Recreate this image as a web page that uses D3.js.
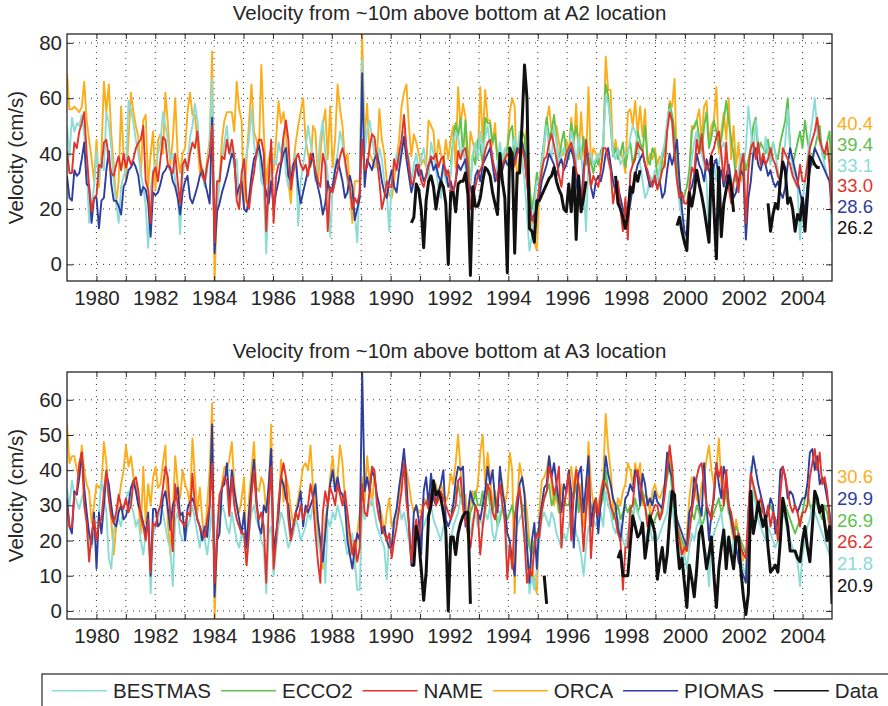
<!DOCTYPE html>
<html>
<head>
<meta charset="utf-8">
<script src="https://cdn.jsdelivr.net/npm/d3@7"></script>
<style>
body { margin: 0; background: #fff; }
svg text { font-family: "Liberation Sans", Arial, Helvetica, sans-serif; fill: #262626; }
</style>
</head>
<body>
<svg id="chart" width="888" height="706"></svg>
<script>

// monthly means, Jan 1979 .. Dec 2004 (312 months), null = no value
function gap(n) { return Array(n).fill(null) }

var series_names = ["BESTMAS", "ECCO2", "NAME", "ORCA", "PIOMAS", "Data"]

// ---------- A2 location ----------
// ORCA stops after 2001
var a2_orca = [
	69, 56, 56, 57, 56, 55, 57, 66, 52, 45, 38, 30,
	45, 28, 40, 66, 55, 65, 47, 36, 22, 30, 57, 40,
	30, 45, 62, 55, 50, 46, 32, 52, 54, 28, 40, 48,
	27, 45, 47, 40, 62, 51, 36, 45, 60, 39, 33, 40,
	42, 55, 62, 54, 54, 44, 33, 35, 30, 38, 45, 77,
	-6.0, 22, 30, 45, 52, 55, 55, 55, 48, 66, 56, 52,
	20, 38, 51, 65, 48, 45, 40, 72, 48, 29, 38, 42,
	34, 45, 59, 51, 55, 48, 30, 22, 36, 44, 50, 55,
	60, 45, 40, 35, 50, 48, 30, 40, 50, 56, 38, 57,
	35, 45, 65, 56, 50, 37, 40, 28, 15, 30, 30, 30,
	83.2, 45, 58, 40, 38, 35, 38, 56, 45, 40, 30, 25,
	24, 30, 38, 45, 57, 62, 65, 50, 39, 47, 44, 40,
	36, 38, 35, 52, 50, 48, 35, 45, 40, 36, 45, 38,
	45, 50, 35, 64, 50, 58, 53, 28, 48, 44, 40, 38,
	64, 44, 63, 52, 52, 43, 51, 38, 32, 36, 40, 42,
	55, 60, 57, 28, 39, 40, 44, 50, 30, 15, 8, 5,
	25, 32, 42, 52, 57, 48, 47, 50, 44, 39, 40, 45,
	40, 53, 42, 58, 38, 55, 40, 36, 64, 36, 42, 40,
	38, 34, 42, 75, 63, 63, 39, 45, 39, 41, 38, 33,
	55, 56, 50, 59, 47, 57, 46, 56, 36, 40, 38, 42,
	36, 39, 38, 35, 50, 59, 57, 67, 32, 25, 18, 10,
	5, 30, 50, 49, 52, 56, 45, 57, 59, 44, 50, 52,
	64, 40, 48, 55, 45, 60, 38, 50, 35, 44, 30, 36
].concat(gap(36))

var a2_ecco2 = gap(156).concat([
	36, 45, 51, 46, 53, 40, 52, 39, 29, 40, 36, 45,
	43, 36, 53, 51, 51, 44, 47, 38, 40, 35, 37, 42,
	48, 50, 38, 40, 44, 48, 46, 36, 28, 20, 25, 33,
	28, 38, 45, 53, 46, 48, 54, 45, 36, 44, 48, 40,
	38, 51, 45, 50, 44, 38, 46, 36, 40, 37, 33, 38,
	36, 41, 43, 65, 61, 50, 39, 42, 38, 40, 44, 35,
	41, 44, 36, 40, 48, 44, 41, 50, 38, 36, 42, 40,
	32, 29, 38, 42, 50, 58, 54, 48, 36, 30, 22, 25,
	28, 34, 48, 50, 52, 46, 40, 50, 55, 42, 46, 52,
	48, 42, 45, 52, 59, 52, 45, 40, 30, 28, 36, 40,
	34, 38, 42, 50, 53, 40, 44, 42, 40, 45, 38, 44,
	40, 38, 44, 48, 52, 60, 42, 36, 40, 44, 48, 42,
	52, 45, 40, 36, 42, 46, 50, 40, 38, 44, 48, 30
])

var a2_bestmas = [
	50, 39, 53, 48, 51, 50, 54, 47, 35, 15, 22, 28,
	41, 30, 38, 34, 55, 51, 42, 30, 22, 15, 28, 32,
	34, 59, 56, 51, 45, 40, 33, 28, 21, 6, 27, 34,
	36, 40, 44, 55, 50, 45, 38, 40, 30, 25, 11, 32,
	38, 35, 46, 50, 58, 52, 40, 33, 28, 34, 45, 67,
	5, 20, 30, 38, 44, 50, 40, 42, 35, 38, 21, 30,
	34, 40, 45, 56, 44, 38, 42, 30, 28, 4, 25, 34,
	38, 36, 44, 40, 46, 33, 28, 35, 36, 40, 14, 30,
	36, 42, 50, 44, 38, 30, 36, 46, 52, 40, 32, 10,
	28, 36, 40, 48, 44, 36, 30, 24, 22, 18, 8, 30,
	74, 40, 48, 52, 46, 40, 35, 42, 38, 30, 26, 12,
	30, 34, 40, 36, 44, 48, 42, 38, 30, 36, 40, 34,
	38, 42, 36, 30, 44, 40, 34, 28, 24, 36, 30, 28,
	32, 44, 48, 46, 40, 42, 35, 26, 30, 40, 44, 38,
	48, 40, 46, 50, 42, 40, 30, 36, 44, 38, 42, 36,
	40, 42, 46, 40, 48, 38, 30, 18, 5, 10, 22, 30,
	30, 36, 44, 50, 42, 38, 50, 44, 36, 40, 42, 38,
	40, 48, 44, 36, 46, 40, 30, 12, 38, 40, 36, 38,
	40, 38, 44, 61, 58, 52, 40, 38, 42, 36, 38, 40,
	40, 46, 50, 48, 44, 36, 30, 24, 26, 32, 30, 34,
	30, 36, 40, 44, 52, 56, 50, 38, 30, 22, 16, 12,
	8, 28, 38, 44, 48, 42, 40, 36, 30, 8, 30, 36,
	30, 36, 42, 44, 40, 36, 30, 28, 26, 34, 40, 36,
	42, 57, 48, 40, 52, 44, 38, 36, 46, 40, 36, 44,
	40, 34, 30, 38, 44, 56, 40, 36, 30, 28, 9, 22,
	30, 38, 46, 52, 60, 48, 44, 40, 36, 32, 30, 8
]

var a2_name = [
	41, 33, 33, 44, 42, 48, 51, 55, 40, 28, 19, 24,
	25, 36, 35, 44, 45, 38, 33, 32, 36, 39, 34, 40,
	35, 39, 36, 38, 42, 44, 45, 50, 30, 27, 15, 33,
	35, 30, 38, 46, 45, 36, 34, 33, 40, 30, 22, 36,
	38, 34, 40, 44, 42, 48, 38, 32, 30, 36, 40, 50,
	8, 30, 30, 39, 38, 45, 40, 45, 39, 23, 20, 33,
	38, 23, 20, 28, 33, 40, 45, 45, 40, 12, 30, 45,
	15, 32, 36, 37, 46, 52, 45, 27, 33, 38, 40, 36,
	34, 36, 32, 40, 38, 34, 30, 28, 40, 36, 12, 28,
	26, 30, 34, 39, 42, 38, 32, 28, 20, 24, 22, 26,
	45, 34, 35, 42, 47, 46, 38, 30, 20, 24, 30, 28,
	28, 38, 34, 40, 45, 54, 42, 36, 29, 30, 35, 36,
	30, 28, 32, 36, 39, 38, 40, 35, 38, 39, 32, 34,
	27, 26, 30, 41, 38, 41, 42, 35, 20, 24, 28, 32,
	34, 36, 41, 44, 45, 38, 34, 30, 32, 36, 38, 40,
	38, 34, 36, 40, 42, 42, 38, 30, 20, 17, 15, 22,
	28, 34, 38, 39, 44, 47, 43, 38, 32, 28, 36, 40,
	42, 44, 40, 34, 30, 21, 30, 45, 38, 28, 32, 30,
	28, 34, 42, 42, 38, 34, 22, 28, 30, 20, 12, 24,
	9, 33, 36, 38, 44, 42, 41, 36, 34, 30, 28, 32,
	27, 30, 34, 36, 48, 55, 52, 40, 30, 24, 26, 22,
	22, 27, 35, 33, 45, 40, 47, 38, 34, 36, 40, 42,
	46, 48, 40, 30, 44, 28, 22, 30, 34, 26, 36, 40,
	15, 34, 42, 44, 38, 44, 36, 40, 36, 38, 42, 38,
	36, 32, 30, 42, 40, 38, 36, 32, 30, 28, 36, 30,
	30, 36, 42, 45, 48, 53, 45, 42, 40, 44, 36, 18
]

var a2_piomas = [
	32, 24, 23, 34, 32, 33, 38, 44, 29, 28, 15, 24,
	24, 13, 23, 24, 34, 41, 29, 23, 23, 21, 18, 28,
	30, 34, 35, 37, 35, 32, 25, 28, 27, 22, 10, 26,
	25, 26, 29, 33, 34, 36, 35, 30, 28, 24, 18, 26,
	30, 32, 24, 22, 25, 28, 32, 34, 30, 26, 22, 53,
	4, 19, 22, 26, 29, 32, 36, 40, 38, 25, 28, 30,
	20, 19, 24, 32, 38, 40, 43, 38, 30, 26, 22, 30,
	20, 26, 30, 36, 40, 42, 32, 30, 36, 38, 28, 22,
	26, 30, 34, 36, 40, 32, 28, 24, 18, 22, 30, 26,
	28, 34, 38, 34, 30, 24, 26, 32, 28, 16, 20, 24,
	69, 28, 38, 36, 34, 38, 40, 36, 30, 26, 24, 30,
	34, 28, 26, 34, 40, 46, 38, 32, 26, 30, 36, 32,
	34, 30, 32, 36, 38, 34, 36, 32, 30, 36, 34, 28,
	30, 26, 30, 36, 34, 36, 38, 30, 28, 24, 32, 34,
	30, 36, 38, 40, 42, 36, 30, 32, 36, 34, 38, 36,
	36, 34, 38, 42, 40, 44, 40, 30, 22, 16, 18, 20,
	24, 30, 33, 36, 40, 38, 36, 32, 36, 38, 34, 36,
	40, 42, 38, 30, 24, 22, 34, 42, 36, 28, 24, 30,
	32, 30, 34, 40, 42, 36, 30, 26, 28, 24, 20, 18,
	16, 22, 28, 32, 36, 38, 40, 36, 32, 28, 30, 30,
	28, 30, 24, 26, 34, 40, 36, 40, 45, 30, 20, 12,
	10, 26, 28, 32, 40, 36, 34, 30, 38, 34, 30, 36,
	38, 30, 34, 28, 32, 36, 30, 24, 26, 30, 34, 32,
	9, 24, 30, 40, 42, 36, 34, 38, 36, 32, 34, 30,
	28, 30, 26, 24, 28, 36, 42, 38, 34, 30, 26, 22,
	20, 28, 34, 38, 42, 40, 38, 36, 34, 32, 30, 20
]

var a2_data = gap(140).concat(
	[15, 17, 29, 27],
	[20, 6, 23, 30, 32, 28, 20, 26, 30, 28, 22, 0],
	[26, 26, 19, 29, 30, 30, 33, 25, -4, 28, 21, 21],
	[24, 30, 35, 34, 32, 26, 22, 18, 40, 30, 24, -3],
	[42, 40, 4, 33, 33, 51, 72, 60, 13, 12, 8, 23],
	[23, 25, 27, 29, 31, 32, 35, 30, 27, 25, 20, 19],
	[29, 19, 35, 9, 32, 19, 24, 30], gap(4),
	gap(7), [32, 22, 20, 17, 13],
	[18, 28, 26, 33, 30, 34], gap(6),
	gap(8), [14, 17, 12, 8],
	[5, 26, 21, 26, 34, 29, 25, 20, 14, 8, 39, 20],
	[2, 35, 10, 22, 27, 32, 28, 19], gap(4),
	gap(9), [22, 12, 18],
	[22, 20, 30, 37, 34, 22, 24, 20, 12, 18, 16, 24],
	[12, 24, 39, 38, 36, 35, 35], gap(5)
)

var a2_label_names = ["ORCA", "ECCO2", "BESTMAS", "NAME", "PIOMAS", "Data"]
var a2_label_values = [40.4, 39.4, 33.1, 33.0, 28.6, 26.2]

// ---------- A3 location ----------
var a3_orca = [
	53, 42, 44, 44, 40, 38, 47, 40, 36, 34, 25, 30,
	36, 35, 36, 48, 42, 32, 26, 16, 24, 31, 36, 40,
	47, 41, 44, 38, 36, 31, 22, 41, 25, 36, 30, 38,
	41, 35, 36, 42, 47, 25, 16, 28, 44, 36, 32, 40,
	36, 34, 30, 49, 38, 28, 35, 26, 20, 30, 40, 59,
	-2.3, 20, 28, 36, 41, 40, 43, 48, 36, 30, 28, 32,
	38, 13, 32, 40, 48, 35, 34, 38, 36, 28, 32, 53,
	16, 22, 25, 43, 31, 38, 35, 29, 24, 28, 32, 36,
	41, 42, 40, 47, 35, 30, 22, 17, 12, 26, 30, 38,
	44, 36, 38, 47, 42, 32, 24, 16, 20, 12, 22, 28,
	38, 31, 44, 37, 30, 39, 32, 30, 27, 22, 28, 32,
	24, 26, 28, 33, 38, 44, 40, 36, 31, 28, 30, 28,
	28, 32, 31, 33, 30, 34, 36, 31, 36, 34, 31, 33,
	39, 36, 42, 50, 40, 28, 33, 20, 30, 34, 32, 36,
	45, 50, 36, 45, 38, 30, 34, 28, 40, 36, 30, 34,
	45, 40, 5, 30, 42, 38, 34, 28, 20, 14, 8, 5,
	28, 37, 38, 40, 44, 36, 30, 33, 28, 36, 30, 34,
	38, 41, 34, 41, 29, 36, 24, 30, 48, 36, 30, 28,
	30, 34, 38, 56, 46, 40, 30, 28, 32, 30, 34, 36,
	42, 40, 36, 42, 38, 42, 30, 33, 32, 28, 34, 36,
	33, 32, 34, 36, 40, 44, 38, 30, 26, 22, 18, 16,
	22, 32, 38, 36, 32, 30, 36, 38, 43, 47, 40, 36,
	40, 49, 36, 32, 38, 30, 24, 20, 26, 22, 18, 14
].concat(gap(36))

var a3_ecco2 = gap(156).concat([
	28, 30, 34, 36, 32, 30, 26, 22, 28, 30, 34, 30,
	30, 34, 28, 36, 30, 28, 32, 24, 26, 30, 28, 26,
	28, 30, 26, 32, 34, 30, 28, 22, 18, 16, 20, 22,
	24, 30, 32, 34, 36, 30, 32, 34, 28, 30, 32, 30,
	30, 34, 32, 36, 28, 32, 30, 28, 34, 30, 28, 30,
	28, 30, 32, 40, 34, 30, 26, 28, 30, 26, 28, 30,
	28, 30, 26, 32, 28, 30, 34, 30, 26, 28, 24, 26,
	28, 26, 30, 34, 38, 42, 34, 28, 24, 22, 20, 18,
	18, 24, 28, 26, 30, 28, 24, 26, 30, 28, 26, 28,
	30, 32, 28, 30, 34, 28, 26, 22, 24, 22, 20, 18,
	16, 22, 28, 34, 32, 30, 28, 30, 26, 28, 30, 28,
	26, 24, 28, 32, 30, 28, 26, 24, 22, 24, 26, 28,
	32, 34, 30, 28, 32, 30, 28, 26, 30, 28, 24, 18
])

var a3_bestmas = [
	35, 30, 37, 33, 31, 29, 32, 34, 26, 20, 18, 22,
	20, 28, 37, 33, 28, 15, 12, 22, 28, 26, 24, 30,
	32, 34, 30, 28, 24, 26, 20, 16, 22, 26, 5, 22,
	24, 26, 30, 28, 24, 20, 18, 7, 26, 28, 22, 20,
	20, 24, 26, 30, 26, 22, 18, 24, 20, 16, 22, 30,
	4, 22, 26, 30, 28, 24, 22, 28, 24, 20, 18, 22,
	20, 14, 22, 28, 30, 26, 24, 20, 18, 5, 22, 24,
	10, 18, 24, 28, 26, 22, 18, 20, 22, 26, 24, 20,
	22, 24, 28, 26, 30, 24, 20, 16, 22, 8, 26, 24,
	28, 26, 30, 27, 24, 20, 16, 18, 22, 14, 6, 6,
	30, 26, 28, 30, 32, 28, 24, 22, 20, 18, 9, 22,
	18, 24, 26, 30, 26, 28, 24, 20, 16, 22, 24, 20,
	22, 24, 26, 28, 30, 26, 24, 22, 20, 24, 22, 18,
	20, 24, 26, 28, 32, 30, 26, 24, 22, 26, 28, 24,
	26, 24, 28, 26, 30, 22, 20, 24, 28, 30, 24, 18,
	16, 14, 20, 24, 26, 28, 22, 18, 5, 10, 6, 12,
	20, 26, 28, 26, 24, 28, 26, 22, 20, 18, 22, 20,
	24, 28, 26, 22, 20, 16, 10, 18, 24, 22, 26, 24,
	26, 28, 24, 34, 30, 28, 24, 22, 26, 24, 20, 18,
	22, 26, 28, 30, 28, 26, 24, 20, 22, 24, 20, 22,
	20, 22, 24, 26, 28, 34, 30, 24, 20, 18, 14, 16,
	12, 18, 22, 20, 24, 26, 22, 18, 16, 7, 20, 22,
	24, 26, 28, 22, 20, 18, 16, 20, 18, 16, 14, 12,
	10, 24, 41, 33, 30, 26, 24, 22, 20, 24, 22, 20,
	18, 20, 24, 28, 26, 22, 20, 18, 16, 14, 7, 16,
	20, 24, 26, 30, 28, 26, 24, 22, 20, 18, 16, 10
]

var a3_name = [
	30, 24, 24, 33, 34, 42, 45, 30, 25, 14, 22, 26,
	20, 25, 26, 34, 40, 32, 27, 25, 28, 33, 30, 29,
	32, 28, 30, 37, 38, 34, 27, 24, 20, 26, 11, 25,
	24, 28, 30, 35, 41, 38, 27, 17, 36, 30, 26, 25,
	24, 28, 27, 39, 30, 26, 24, 22, 21, 26, 30, 42,
	8, 22, 33, 35, 38, 37, 27, 38, 30, 26, 24, 22,
	22, 13, 22, 33, 40, 30, 26, 28, 24, 8, 30, 41,
	12, 20, 31, 38, 42, 38, 26, 20, 24, 28, 26, 30,
	26, 28, 30, 36, 32, 22, 14, 8, 28, 34, 30, 35,
	33, 30, 36, 33, 30, 34, 28, 22, 16, 20, 14, 18,
	36, 28, 27, 34, 41, 40, 30, 26, 24, 22, 20, 22,
	15, 20, 24, 29, 34, 42, 31, 25, 14, 22, 26, 20,
	27, 30, 31, 29, 33, 36, 30, 32, 34, 32, 30, 28,
	26, 28, 30, 37, 38, 30, 26, 22, 18, 24, 30, 28,
	16, 24, 30, 36, 34, 28, 26, 32, 36, 30, 26, 9,
	19, 12, 26, 32, 35, 28, 20, 8, 12, 10, 18, 22,
	21, 28, 32, 34, 41, 38, 33, 36, 41, 18, 30, 34,
	39, 20, 33, 40, 36, 30, 17, 28, 38, 15, 26, 32,
	27, 33, 37, 36, 34, 30, 28, 26, 22, 20, 6, 18,
	18, 29, 30, 38, 40, 36, 32, 30, 24, 26, 28, 30,
	30, 26, 28, 33, 40, 47, 41, 30, 24, 20, 16, 18,
	17, 22, 28, 33, 38, 41, 42, 36, 30, 28, 26, 34,
	42, 38, 41, 30, 40, 30, 28, 24, 20, 22, 18, 16,
	15, 28, 39, 36, 33, 30, 32, 28, 26, 30, 24, 28,
	26, 20, 33, 41, 38, 34, 30, 28, 30, 28, 24, 28,
	28, 30, 38, 42, 46, 40, 45, 36, 38, 34, 26, 8
]

var a3_piomas = [
	32, 24, 22, 34, 33, 38, 45, 35, 28, 22, 19, 28,
	12, 28, 22, 30, 39, 36, 30, 25, 24, 28, 30, 26,
	27, 30, 35, 37, 34, 30, 28, 25, 22, 28, 10, 29,
	29, 24, 25, 32, 34, 29, 23, 30, 32, 35, 27, 28,
	20, 29, 31, 32, 30, 26, 24, 20, 24, 21, 30, 53,
	4, 20, 22, 35, 36, 42, 30, 40, 34, 30, 26, 22,
	28, 18, 28, 36, 43, 32, 24, 22, 30, 28, 36, 46,
	17, 22, 28, 38, 36, 32, 30, 22, 24, 28, 30, 34,
	24, 30, 28, 30, 32, 36, 26, 20, 14, 22, 30, 36,
	40, 34, 38, 34, 33, 30, 20, 16, 12, 18, 22, 20,
	67.9, 34, 38, 34, 40, 38, 33, 30, 22, 24, 20, 18,
	18, 26, 29, 35, 40, 46, 37, 24, 13, 28, 30, 26,
	16, 34, 38, 30, 39, 32, 30, 34, 36, 40, 26, 24,
	26, 30, 37, 41, 40, 41, 24, 28, 34, 31, 30, 28,
	26, 30, 34, 41, 36, 40, 32, 28, 41, 34, 30, 22,
	20, 14, 10, 28, 36, 38, 33, 18, 8, 20, 25, 12,
	25, 30, 35, 36, 44, 38, 42, 36, 31, 28, 36, 34,
	40, 34, 18, 30, 39, 41, 28, 36, 44, 24, 30, 32,
	22, 31, 35, 44, 39, 36, 32, 30, 24, 20, 26, 32,
	33, 36, 34, 40, 38, 30, 39, 36, 30, 32, 30, 34,
	31, 30, 29, 36, 45, 40, 38, 30, 26, 24, 22, 20,
	18, 28, 30, 38, 36, 30, 27, 42, 30, 20, 28, 32,
	42, 36, 32, 41, 38, 30, 26, 22, 18, 14, 12, 10,
	8, 28, 38, 44, 40, 36, 33, 30, 26, 28, 32, 30,
	22, 26, 40, 41, 38, 32, 34, 33, 30, 28, 30, 32,
	32, 36, 45, 46, 40, 44, 36, 38, 36, 32, 28, 20
]

var a3_data = gap(140).concat(
	[13, 13, 24, 20],
	[12, 3, 11, 27, 30, 37, 33, 34, 32, 28, 23, 0],
	[21, 21, 16, 22, 25, 27, 28, 28, 2], gap(3),
	gap(12),
	gap(12),
	gap(2), [10, 2], gap(8),
	gap(12),
	gap(8), [15, 17, 10, 10],
	[10, 19, 27, 24, 21, 22, 25, 15, 20, 27, 25, 22],
	[9, 14, 18, 11, 16, 26, 34, 33, 20, 12, 15, 8],
	[1, 13, 9, 4, 12, 22, 24, 18, 12, 16, 21, 10],
	[1, 12, 18, 23, 12, 21, 16, 12, 21, 21, 11, 4],
	[-1, 5, 34, 22, 26, 31, 27, 24, 27, 18, 11, 12],
	[13, 11, 20, 32, 28, 24, 17, 17, 17, 15, 14, 20],
	[24, 18, 14, 24, 34, 32, 28, 30, 25, 20, 24, 2]
)

var a3_label_names = ["ORCA", "PIOMAS", "ECCO2", "NAME", "BESTMAS", "Data"]
var a3_label_values = [30.6, 29.9, 26.9, 26.2, 21.8, 20.9]

// ---------- styles ----------
var colours = {
	"BESTMAS": "#8bdcd5",
	"ECCO2": "#5ec24c",
	"NAME": "#e2342b",
	"ORCA": "#fbad1a",
	"PIOMAS": "#2d3e9e",
	"Data": "#111111"
}
var draw_order = ["ORCA", "ECCO2", "BESTMAS", "PIOMAS", "NAME", "Data"]
var font_size = 20.5
var label_font_size = 18.5

var svg = d3.select("#chart")

var x = d3.scaleLinear().domain([1979, 2005]).range([67, 832])
var month_to_year = d3.scaleLinear().domain([0, 311]).range([1979, 2005])
var year_ticks = d3.range(1980, 2005)

function _flatten(series) {
	var out = []
	Object.keys(series).forEach(function(k) {out = out.concat(series[k])})
	return out
}

function draw_panel(cfg) {

	var all_values = _flatten(cfg.series).filter(function(d) {return d != null})
	var y = d3.scaleLinear().domain(d3.extent(all_values)).range([cfg.bottom, cfg.top])

	var g = svg.append("g")

	var clip_id = "clip_" + cfg.id
	svg.append("clipPath").attr("id", clip_id)
		.append("rect")
		.attr("x", x.range()[0]).attr("y", cfg.top)
		.attr("width", x.range()[1] - x.range()[0])
		.attr("height", cfg.bottom - cfg.top)

	// dotted grid
	g.selectAll(".vgrid").data(year_ticks).enter()
		.append("line")
		.attr("x1", function(d) {return x(d)})
		.attr("x2", function(d) {return x(d)})
		.attr("y1", cfg.top)
		.attr("y2", cfg.bottom)
		.attr("stroke", "#333")
		.attr("stroke-width", 1)
		.attr("stroke-dasharray", "1,5")

	g.selectAll(".hgrid").data(cfg.y_ticks).enter()
		.append("line")
		.attr("x1", x.range()[0])
		.attr("x2", x.range()[1])
		.attr("y1", function(d) {return y(d)})
		.attr("y2", function(d) {return y(d)})
		.attr("stroke", "#333")
		.attr("stroke-width", 1)
		.attr("stroke-dasharray", "1,5")

	// series
	var line = d3.line()
		.defined(function(d) {return d[1] != null})
		.x(function(d) {return x(month_to_year(d[0]))})
		.y(function(d) {return y(d[1])})

	var lines_g = g.append("g").attr("clip-path", "url(#" + clip_id + ")")
	draw_order.forEach(function(name) {
		var values = cfg.series[name]
		var pts = values.map(function(v, i) {return [i, v]})
		lines_g.append("path")
			.datum(pts)
			.attr("d", line)
			.attr("fill", "none")
			.attr("stroke", colours[name])
			.attr("stroke-width", name == "Data" ? 3 : 1.9)
			.attr("stroke-linejoin", "round")
	})

	// axes (ticks inside the box, like matlab)
	var bottom_axis = d3.axisBottom(x).tickValues(year_ticks).tickSize(-5).tickPadding(9)
		.tickFormat(function(d) {return d % 2 == 0 ? d : ""})
	var top_axis = d3.axisTop(x).tickValues(year_ticks).tickSize(-5).tickFormat("")
	var left_axis = d3.axisLeft(y).tickValues(cfg.y_ticks).tickSize(-6).tickPadding(5)
	var right_axis = d3.axisRight(y).tickValues(cfg.y_ticks).tickSize(-6).tickFormat("")

	var axes = [
		[bottom_axis, "translate(0," + cfg.bottom + ")"],
		[top_axis, "translate(0," + cfg.top + ")"],
		[left_axis, "translate(" + x.range()[0] + ",0)"],
		[right_axis, "translate(" + x.range()[1] + ",0)"]
	]
	axes.forEach(function(a) {
		var ag = g.append("g").attr("transform", a[1]).call(a[0])
		ag.select(".domain").remove()
		ag.selectAll("line").attr("stroke", "#262626").attr("stroke-width", 1)
		ag.selectAll("text")
			.attr("font-size", font_size)
			.attr("font-family", "Liberation Sans, Arial, sans-serif")
			.attr("fill", "#262626")
	})

	g.append("rect")
		.attr("x", x.range()[0]).attr("y", cfg.top)
		.attr("width", x.range()[1] - x.range()[0])
		.attr("height", cfg.bottom - cfg.top)
		.attr("fill", "none")
		.attr("stroke", "#262626")
		.attr("stroke-width", 1.3)

	// title and y label
	g.append("text")
		.attr("x", (x.range()[0] + x.range()[1]) / 2)
		.attr("y", cfg.title_y)
		.attr("text-anchor", "middle")
		.attr("font-size", font_size)
		.text(cfg.title)

	g.append("text")
		.attr("transform", "translate(23," + ((cfg.top + cfg.bottom) / 2) + ") rotate(-90)")
		.attr("text-anchor", "middle")
		.attr("font-size", font_size)
		.text("Velocity (cm/s)")

	// mean values at the right
	g.selectAll(".mean_label").data(d3.zip(cfg.label_names, cfg.label_values)).enter()
		.append("text")
		.attr("x", 837)
		.attr("y", function(d, i) {return cfg.label_y + i * cfg.label_step})
		.attr("dy", "0.36em")
		.attr("font-size", label_font_size)
		.style("fill", function(d) {return colours[d[0]]})
		.text(function(d) {return d3.format(".1f")(d[1])})
}

draw_panel({
	id: "a2",
	top: 34, bottom: 281,
	title: "Velocity from ~10m above bottom at A2 location",
	title_y: 20,
	y_ticks: [0, 20, 40, 60, 80],
	series: {"BESTMAS": a2_bestmas, "ECCO2": a2_ecco2, "NAME": a2_name,
		"ORCA": a2_orca, "PIOMAS": a2_piomas, "Data": a2_data},
	label_names: a2_label_names, label_values: a2_label_values,
	label_y: 123.5, label_step: 20.7
})

draw_panel({
	id: "a3",
	top: 372, bottom: 619,
	title: "Velocity from ~10m above bottom at A3 location",
	title_y: 358,
	y_ticks: [0, 10, 20, 30, 40, 50, 60],
	series: {"BESTMAS": a3_bestmas, "ECCO2": a3_ecco2, "NAME": a3_name,
		"ORCA": a3_orca, "PIOMAS": a3_piomas, "Data": a3_data},
	label_names: a3_label_names, label_values: a3_label_values,
	label_y: 476.7, label_step: 21.7
})

// legend
var legend = svg.append("g")
legend.append("rect")
	.attr("x", 42).attr("y", 674)
	.attr("width", 900).attr("height", 60)
	.attr("fill", "#fff")
	.attr("stroke", "#262626")
	.attr("stroke-width", 1.2)

var cursor = 52
series_names.forEach(function(name) {
	legend.append("line")
		.attr("x1", cursor).attr("x2", cursor + 55)
		.attr("y1", 690.7).attr("y2", 690.7)
		.attr("stroke", colours[name])
		.attr("stroke-width", 1.5)
	var t = legend.append("text")
		.attr("x", cursor + 61)
		.attr("y", 697.5)
		.attr("font-size", font_size)
		.text(name)
	cursor = cursor + 61 + t.node().getComputedTextLength() + 10
})

</script>
</body>
</html>
